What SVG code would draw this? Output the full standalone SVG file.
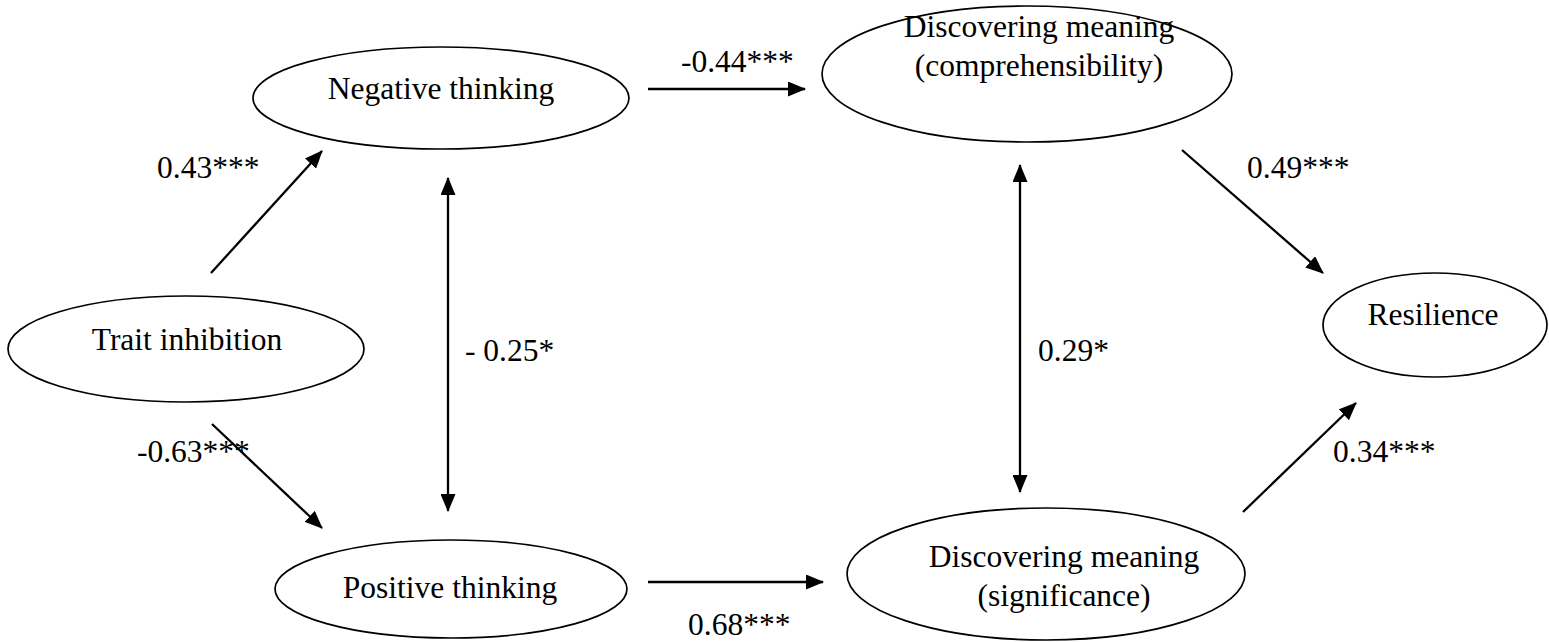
<svg xmlns="http://www.w3.org/2000/svg" width="1549" height="642" viewBox="0 0 1549 642">
<style>
  .node ellipse { fill: #fff; stroke: #000; stroke-width: 1.7; }
  text { font-family: "Liberation Serif", "Times New Roman", Tinos, "DejaVu Serif", serif; font-size: 31.5px; fill: #000; }
  .nt { text-anchor: middle; }
  .edge { stroke: #000; stroke-width: 2.3; fill: none; }
</style>
<defs>
  <marker id="ah" viewBox="0 0 18 15" refX="17" refY="7.5" markerWidth="18" markerHeight="15" markerUnits="userSpaceOnUse" orient="auto-start-reverse">
    <path d="M0,0 L18,7.5 L0,15 z" fill="#000"/>
  </marker>
</defs>
<rect width="1549" height="642" fill="#fff"/>
<g id="trait">
  <g class="node"><ellipse cx="186" cy="349" rx="178" ry="53"/></g>
  <text class="nt" x="187" y="350">Trait inhibition</text>
</g>
<g id="negative">
  <g class="node"><ellipse cx="441" cy="98" rx="188" ry="51"/></g>
  <text class="nt" x="441" y="99">Negative thinking</text>
</g>
<g id="positive">
  <g class="node"><ellipse cx="451" cy="589" rx="176" ry="49"/></g>
  <text class="nt" x="450" y="598">Positive thinking</text>
</g>
<g id="comprehensibility">
  <g class="node"><ellipse cx="1027" cy="74" rx="205" ry="68"/></g>
  <text class="nt" x="1039" y="37">Discovering meaning</text>
  <text class="nt" x="1039" y="76">(comprehensibility)</text>
</g>
<g id="significance">
  <g class="node"><ellipse cx="1046" cy="574" rx="199" ry="66"/></g>
  <text class="nt" x="1064" y="567">Discovering meaning</text>
  <text class="nt" x="1064" y="606">(significance)</text>
</g>
<g id="resilience">
  <g class="node"><ellipse cx="1435" cy="325" rx="112" ry="52"/></g>
  <text class="nt" x="1433" y="325">Resilience</text>
</g>
<g id="connectors">
  <line class="edge" x1="211" y1="273" x2="322" y2="151" marker-end="url(#ah)"/>
  <line class="edge" x1="212" y1="424" x2="322" y2="528" marker-end="url(#ah)"/>
  <line class="edge" x1="648" y1="89" x2="805" y2="89" marker-end="url(#ah)"/>
  <line class="edge" x1="648" y1="582" x2="823" y2="582" marker-end="url(#ah)"/>
  <line class="edge" x1="1182" y1="150" x2="1323" y2="273" marker-end="url(#ah)"/>
  <line class="edge" x1="1243" y1="512" x2="1356" y2="403" marker-end="url(#ah)"/>
  <line class="edge" x1="448" y1="178" x2="448" y2="511" marker-start="url(#ah)" marker-end="url(#ah)"/>
  <line class="edge" x1="1020" y1="165" x2="1020" y2="492" marker-start="url(#ah)" marker-end="url(#ah)"/>
  <text x="157" y="178">0.43***</text>
  <text x="137" y="462">-0.63***</text>
  <text x="681" y="72">-0.44***</text>
  <text x="688" y="635">0.68***</text>
  <text x="1247" y="178">0.49***</text>
  <text x="1333" y="462">0.34***</text>
  <text x="465" y="361">- 0.25*</text>
  <text x="1038" y="361">0.29*</text>
</g>
</svg>
